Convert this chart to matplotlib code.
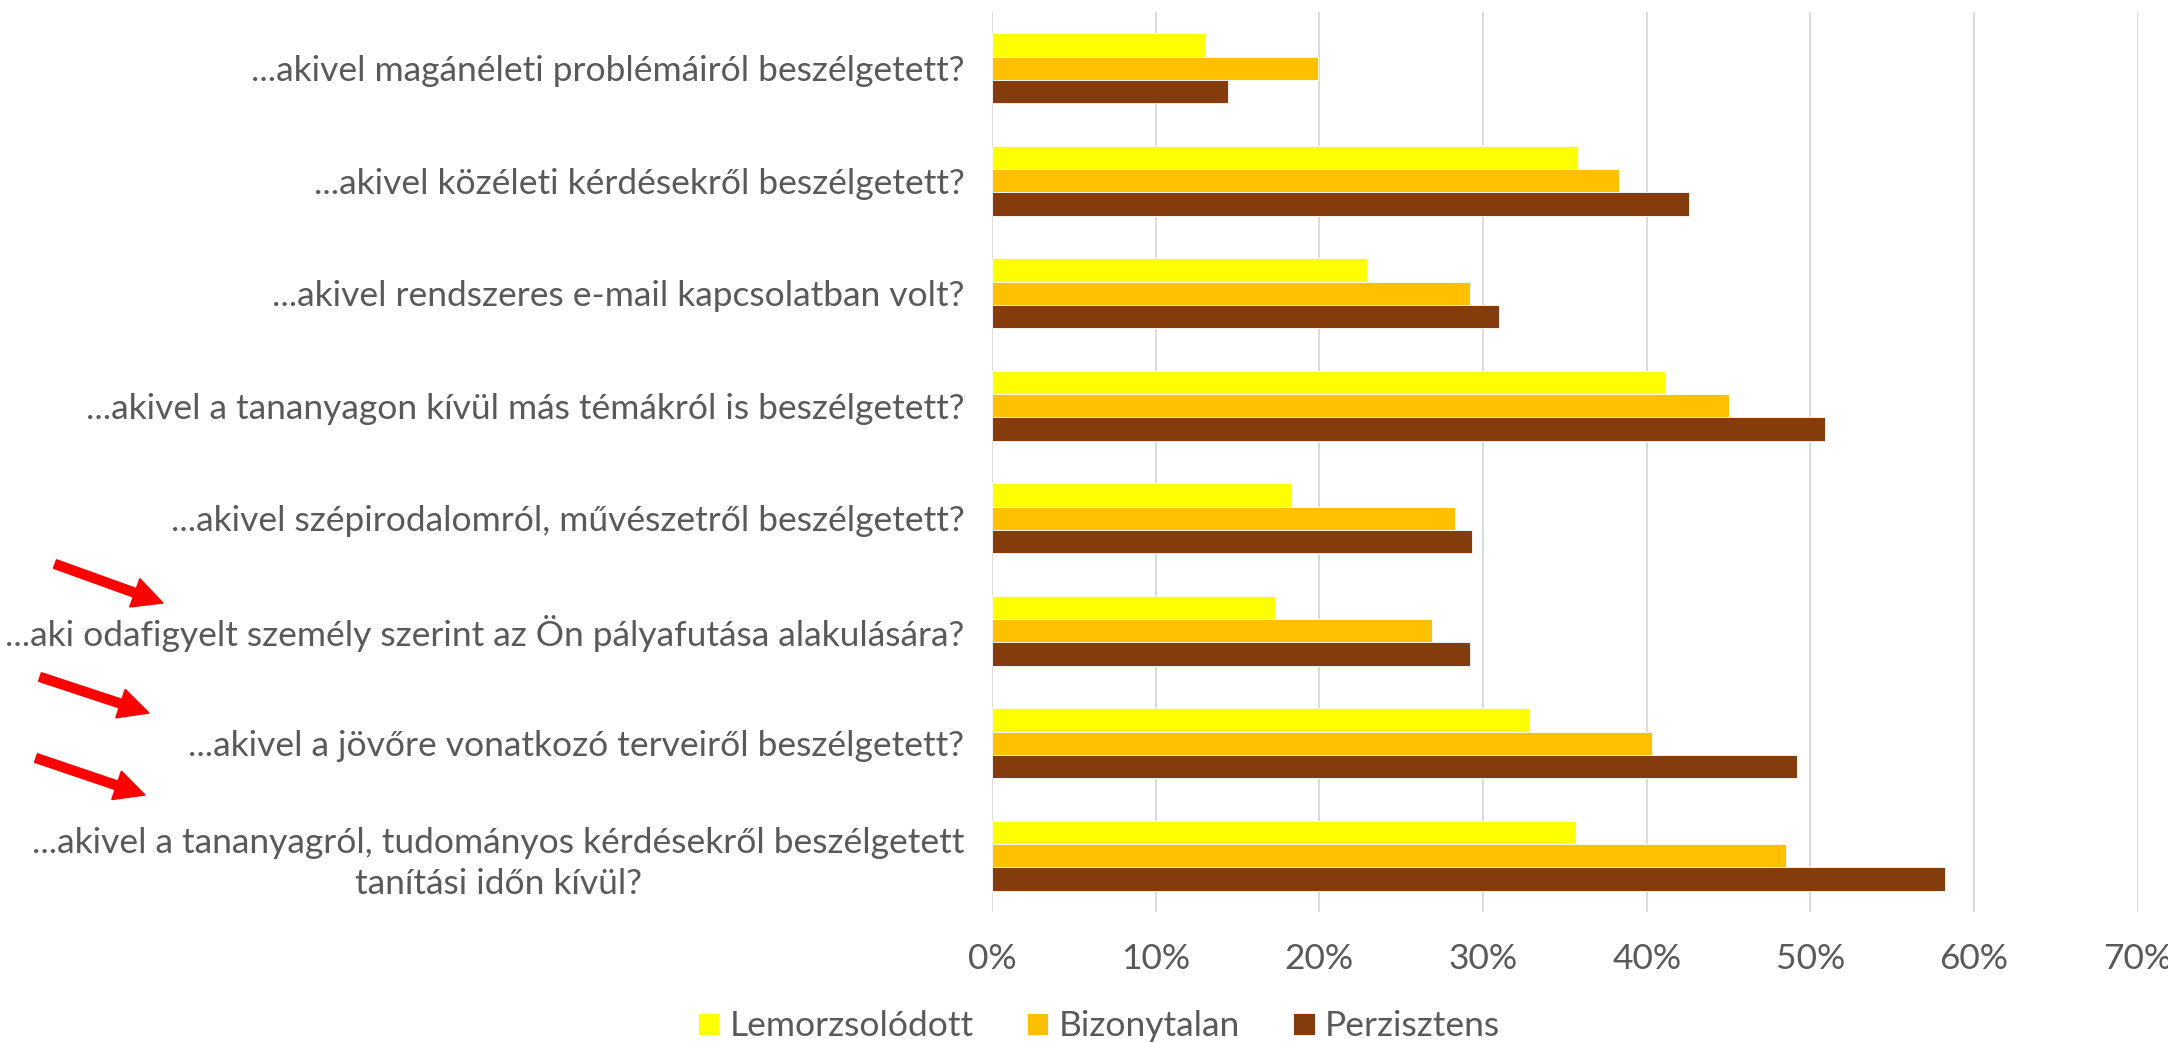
import numpy as np
import matplotlib
matplotlib.use("Agg")
import matplotlib.pyplot as plt
from matplotlib.patches import FancyArrow
from matplotlib.transforms import IdentityTransform
from matplotlib.ticker import PercentFormatter

# ── data ──────────────────────────────────────────────────────────────────
CATEGORIES = [
    "...akivel magánéleti problémáiról beszélgetett?",
    "...akivel közéleti kérdésekről beszélgetett?",
    "...akivel rendszeres e-mail kapcsolatban volt?",
    "...akivel a tananyagon kívül más témákról is beszélgetett?",
    "...akivel szépirodalomról, művészetről beszélgetett?",
    "...aki odafigyelt személy szerint az Ön pályafutása alakulására?",
    "...akivel a jövőre vonatkozó terveiről beszélgetett?",
    "...akivel a tananyagról, tudományos kérdésekről beszélgetett\ntanítási időn kívül?",
]
SERIES = ["Lemorzsolódott", "Bizonytalan", "Perzisztens"]
lemorzsolodott = [13.0, 35.8, 22.9, 41.1, 18.3, 17.3, 32.9, 35.7]
bizonytalan    = [19.9, 38.3, 29.2, 45.0, 28.3, 26.9, 40.3, 48.5]
perzisztens    = [14.4, 42.6, 31.0, 50.9, 29.3, 29.2, 49.2, 58.2]
COLORS = ["#FFFF00", "#FFC000", "#843C0C"]
X_TICKS = [0, 10, 20, 30, 40, 50, 60, 70]

TEXT = "#595959"
FS = 25.5
plt.rcParams["font.family"] = ["Lato", "DejaVu Sans"]

fig = plt.figure(figsize=(21.68, 10.43), dpi=100)
ax = fig.add_axes([0.4576, 0.1256, 0.986 - 0.4576, 0.9885 - 0.1256])

y = np.arange(len(CATEGORIES))
h = 0.207
for k, (vals, col, name) in enumerate(zip([lemorzsolodott, bizonytalan, perzisztens], COLORS, SERIES)):
    ax.barh(y + (k - 1) * h, vals, height=h, color=col, label=name,
            edgecolor="white", linewidth=0.6, zorder=3)

ax.set_xlim(0, 70)
ax.set_ylim(len(CATEGORIES) - 0.5, -0.5)
ax.set_xticks(X_TICKS)
ax.xaxis.set_major_formatter(PercentFormatter(decimals=0))
ax.grid(axis="x", color="#d9d9d9", linewidth=1.3, zorder=0)
for s in ax.spines.values():
    s.set_visible(False)
ax.tick_params(axis="x", length=0, pad=22, labelsize=FS, labelcolor=TEXT)
ax.tick_params(axis="y", length=0, pad=20)
ax.set_yticks(y)
ax.set_yticklabels(CATEGORIES, fontsize=FS, color=TEXT, multialignment="center",
                   linespacing=1.35)

fig.legend(loc="center", bbox_to_anchor=(0.507, 0.016), ncol=3, frameon=False,
           fontsize=FS, labelcolor=TEXT, handlelength=0.6, handleheight=0.6,
           handletextpad=0.3, columnspacing=1.5)

# red arrows pointing at the highlighted rows (figure pixels)
arrows = [((55, 479), (163, 440)), ((40, 366), (149, 330)), ((36, 285), (145, 248))]
for (x0, y0), (x1, y1) in arrows:
    fig.add_artist(FancyArrow(x0, y0, x1 - x0, y1 - y0, width=9, head_width=30,
                              head_length=30, length_includes_head=True,
                              color="#FF0000", transform=IdentityTransform()))

fig.savefig("out.png", dpi=100)
